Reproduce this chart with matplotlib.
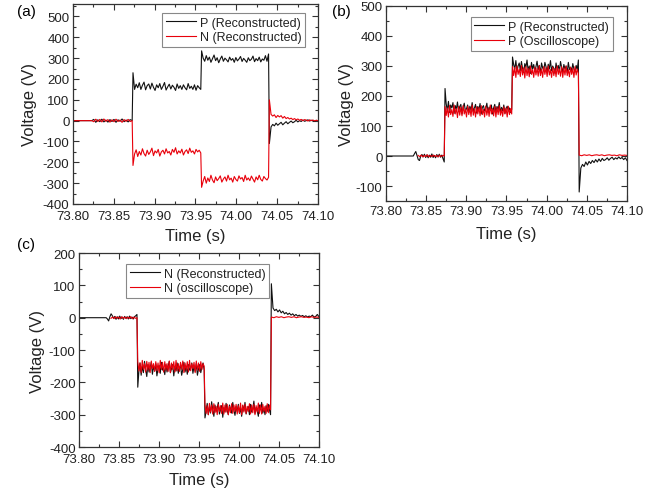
import numpy as np
import matplotlib.pyplot as plt
from matplotlib.ticker import MultipleLocator

plt.rcParams['font.family'] = ['Liberation Sans', 'DejaVu Sans']
plt.rcParams['axes.unicode_minus'] = False

# switching instants (s)
t_start = 73.80
t_step1 = 73.8735
t_step2 = 73.9575
t_step3 = 74.0405
t_end = 74.10

# ---- (a) reconstructed P / N ----
a_quiet_end = 73.823
a_p_pre = [0, 6, -8, 4, -5, 7, -6, 3, -7, 5, -4, 6, -8, 4, -3, 8, -5, 3, -6, 5, 0]
a_p_lvl1 = [230, 150, 175, 158, 182, 150, 170, 185, 148, 168, 176, 152, 180, 160, 145, 172,
            158, 178, 150, 165, 183, 147, 162, 175, 152, 170, 160, 145, 176, 155, 168, 150,
            172, 158, 148, 178, 155, 165, 150, 172, 146, 168, 158, 150]
a_p_lvl2 = [335, 300, 285, 312, 290, 305, 280, 298, 315, 288, 302, 278, 296, 310, 285, 300,
            292, 282, 305, 290, 298, 280, 303, 287, 296, 308, 284, 299, 290, 280, 302, 288,
            295, 310, 283, 298, 288, 305, 282, 296, 290, 312, 285, 320]
a_p_post = [-110, -30, -18, -25, -12, -22, -15, -8, -20, -12, -5, -15, -8, -2, -10, -5, 2,
            -6, 0, -4, 3, -3, 0, 4, -2, 2, 0, -3, 1, 0]

a_n_pre = [0, -5, 7, -4, 6, -6, 8, -3, 5, -7, 4, -5, 7, -4, 3, -8, 5, -3, 6, -4, 0]
a_n_lvl1 = [-215, -160, -140, -172, -148, -165, -135, -158, -170, -142, -162, -150, -132, -168,
            -145, -155, -138, -170, -150, -142, -160, -135, -155, -148, -165, -138, -152, -130,
            -160, -145, -155, -137, -165, -148, -140, -158, -132, -152, -145, -160, -138, -150,
            -142, -155]
a_n_lvl2 = [-320, -290, -268, -300, -275, -292, -262, -285, -298, -270, -288, -278, -265, -295,
            -280, -270, -290, -262, -284, -276, -295, -268, -282, -290, -265, -280, -273, -292,
            -262, -285, -275, -288, -266, -280, -295, -270, -284, -262, -282, -290, -268, -278,
            -285, -272]
a_n_post = [100, 30, 22, 28, 15, 25, 18, 24, 12, 20, 10, 15, 8, 12, 5, 10, 4, 8, 2, 6, 0, 5,
            3, -2, 4, 0, 3, -1, 2, 0]

# ---- (b) P: reconstructed vs oscilloscope ----
b_quiet_end = 73.834
b_rec_pre = [0, 8, 15, 2, -12, -15, 0, 5, -3, 6, -5, 4, -6, 3, -4, 7, -5, 2, -6, 5, -3, 6,
             -4, 3, -8, -20]
b_rec_lvl1 = [225, 175, 150, 182, 145, 170, 160, 178, 142, 168, 155, 180, 148, 165, 172, 140,
              162, 176, 150, 158, 170, 145, 166, 152, 178, 148, 160, 172, 143, 165, 155, 175,
              140, 162, 168, 150, 158, 176, 146, 163, 152, 170, 140, 160, 172, 148, 165, 155,
              178, 145, 162, 150, 170, 142, 158, 166, 150, 160, 145, 155]
b_rec_lvl2 = [330, 305, 290, 318, 282, 300, 310, 285, 315, 292, 278, 308, 296, 320, 285, 300,
              275, 312, 290, 305, 282, 298, 316, 288, 302, 276, 310, 294, 285, 312, 298, 280,
              306, 290, 318, 284, 300, 292, 276, 310, 288, 302, 282, 315, 295, 280, 305, 290,
              300, 278, 312, 288, 296, 284, 308, 290, 280, 302, 288, 320]
b_rec_post = [-120, -40, -28, -35, -20, -30, -18, -25, -15, -22, -12, -20, -10, -18, -8, -15,
              -12, -6, -14, -8, -4, -12, -6, -10, -3, -9, -5, -12, -6, -15]

b_osc_start = 73.840
b_osc_pre = [2, -2, 3, -3, 2, -2, 4, -3, 2, -2, 3, -2, 2, -3, 3, -2, 2, 0]
b_osc_lvl1 = [165, 135, 160, 130, 168, 138, 155, 132, 170, 140, 158, 128, 165, 136, 162, 134,
              168, 140, 156, 130, 166, 138, 160, 132, 170, 136, 158, 130, 164, 140, 162, 134,
              168, 138, 155, 130, 166, 136, 160, 132, 170, 140, 158, 134, 165, 130, 162, 138,
              168, 136, 156, 132, 164, 140, 160, 130, 166, 138, 158, 140]
b_osc_lvl2 = [298, 268, 295, 262, 300, 272, 290, 265, 302, 270, 294, 260, 298, 268, 292, 264,
              300, 272, 288, 262, 296, 270, 293, 266, 301, 268, 290, 262, 298, 272, 294, 265,
              300, 270, 288, 262, 296, 268, 292, 264, 300, 272, 290, 266, 298, 262, 294, 270,
              300, 268, 288, 264, 296, 272, 292, 262, 298, 270, 290, 275]
b_osc_post = [3, 1, 4, 2, 4, 1, 3, 4, 2, 4, 1, 3, 4, 2, 3, 1, 4, 2, 3, 2]

# ---- (c) N: reconstructed vs oscilloscope ----
c_quiet_end = 73.834
c_rec_pre = [0, -4, -10, 3, 12, 6, -2, 4, -5, 3, -4, 5, -3, 2, -5, 4, -2, 3, -4, 5, -3, 2,
             -4, 3, 6, 10]
c_rec_lvl1 = [-215, -165, -140, -178, -150, -170, -135, -160, -182, -145, -168, -155, -138,
              -175, -150, -165, -142, -180, -158, -148, -172, -138, -162, -155, -176, -145,
              -168, -150, -135, -170, -158, -145, -180, -152, -165, -140, -172, -155, -148,
              -178, -160, -138, -168, -150, -175, -145, -162, -155, -140, -172, -150, -166,
              -142, -178, -158, -145, -170, -152, -140, -162]
c_rec_lvl2 = [-310, -290, -265, -300, -275, -295, -260, -285, -305, -270, -290, -280, -262,
              -298, -285, -272, -308, -278, -292, -265, -288, -300, -270, -282, -295, -262,
              -286, -302, -275, -290, -268, -296, -280, -305, -272, -288, -262, -298, -284,
              -275, -300, -268, -292, -282, -258, -296, -278, -288, -305, -270, -285, -262,
              -295, -280, -300, -272, -290, -268, -285, -300]
c_rec_post = [105, 30, 22, 26, 18, 24, 15, 20, 12, 16, 10, 14, 8, 12, 6, 10, 5, 8, 4, 7, 3,
              6, 2, 5, 3, 8, 2, 4, 10, 3]

c_osc_start = 73.840
c_osc_pre = [-2, 2, -3, 3, -2, 2, -4, 3, -2, 2, -3, 2, -2, 3, -3, 2, -2, 0]
c_osc_lvl1 = [-135, -165, -140, -170, -132, -160, -142, -168, -135, -162, -138, -170, -134,
              -158, -142, -166, -136, -164, -140, -170, -132, -160, -138, -168, -136, -162,
              -142, -166, -134, -170, -140, -160, -136, -168, -132, -164, -142, -166, -138,
              -160, -134, -170, -140, -162, -136, -168, -132, -164, -142, -158, -138, -170,
              -134, -162, -140, -166, -136, -160, -142, -150]
c_osc_lvl2 = [-268, -296, -272, -300, -265, -292, -270, -298, -266, -294, -274, -300, -268,
              -290, -272, -296, -264, -298, -270, -292, -268, -300, -274, -294, -266, -296,
              -270, -290, -268, -298, -272, -294, -264, -300, -270, -292, -268, -296, -274,
              -290, -266, -298, -270, -294, -268, -300, -272, -292, -264, -296, -270, -298,
              -268, -290, -274, -296, -266, -294, -270, -285]
c_osc_post = [2, 0, 3, 1, 3, 0, 2, 3, 1, 3, 0, 2, 3, 1, 2, 0, 3, 1, 2, 1]


def trace(segments):
    """Join (t0, t1, samples) pieces into one time/voltage record."""
    tt, vv = [], []
    for t0, t1, vals in segments:
        tt.append(np.linspace(t0, t1, len(vals)))
        vv.append(np.asarray(vals, dtype=float))
    return np.concatenate(tt), np.concatenate(vv)


def record(pre_t0, pre, lvl1, lvl2, post, quiet_end=None):
    segs = []
    if quiet_end is not None:
        # idle line before the converter starts switching
        segs.append((t_start, quiet_end, [0, 0]))
        pre_t0 = quiet_end
    segs += [(pre_t0, t_step1 - 0.001, pre),
             (t_step1, t_step2 - 0.001, lvl1),
             (t_step2, t_step3 - 0.001, lvl2),
             (t_step3, t_end, post)]
    return trace(segs)


def style_axes(ax, ylim, ymajor, xpad, xlabelpad, ylabelpad):
    ax.set_xlim(t_start, t_end)
    ax.set_ylim(*ylim)
    ax.xaxis.set_major_locator(MultipleLocator(0.05))
    ax.xaxis.set_minor_locator(MultipleLocator(0.025))
    ax.yaxis.set_major_locator(MultipleLocator(ymajor))
    ax.yaxis.set_minor_locator(MultipleLocator(ymajor / 2))
    ax.xaxis.set_major_formatter(plt.FuncFormatter(lambda v, p: '%.2f' % v))
    ax.tick_params(which='both', direction='in', top=True, right=True,
                   colors='#333333', labelcolor='#222222', labelsize=9.5)
    ax.tick_params(which='major', length=4, width=0.8)
    ax.tick_params(which='minor', length=2.5, width=0.8)
    ax.tick_params(axis='x', pad=xpad)
    ax.tick_params(axis='y', pad=2.5)
    for s in ax.spines.values():
        s.set_color('#333333')
        s.set_linewidth(0.9)
    ax.set_xlabel('Time (s)', fontsize=12, labelpad=xlabelpad, color='#222222')
    ax.set_ylabel('Voltage (V)', fontsize=12, labelpad=ylabelpad, color='#222222')


def add_legend(ax, loc, anchor):
    leg = ax.legend(loc=loc, bbox_to_anchor=anchor, fontsize=9, frameon=True,
                    fancybox=False, edgecolor='#888888', framealpha=1,
                    handlelength=2.4, handletextpad=0.3, borderpad=0.3,
                    labelspacing=0.2, borderaxespad=0)
    leg.get_frame().set_linewidth(0.8)
    for txt in leg.get_texts():
        txt.set_color('#222222')


fig = plt.figure(figsize=(6.67, 4.89), dpi=100)
lw = 0.8
blk = '#111111'
red = '#e8000b'

# (a)
ax = fig.add_axes([0.1094, 0.5808, 0.3673, 0.4090])
t, v = record(t_start, a_p_pre, a_p_lvl1, a_p_lvl2, a_p_post, a_quiet_end)
ax.plot(t, v, color=blk, lw=lw, label='P (Reconstructed)')
t, v = record(t_start, a_n_pre, a_n_lvl1, a_n_lvl2, a_n_post, a_quiet_end)
ax.plot(t, v, color=red, lw=lw, label='N (Reconstructed)')
style_axes(ax, (-400, 560), 100, 4.5, 4, 4)
ax.set_yticks(np.arange(-400, 501, 100))
add_legend(ax, 'upper right', (0.947, 0.955))
fig.text(0.025, 0.975, '(a)', fontsize=11, va='center')

# (b)
ax = fig.add_axes([0.5787, 0.5869, 0.3613, 0.3988])
t, v = record(t_start, b_rec_pre, b_rec_lvl1, b_rec_lvl2, b_rec_post, b_quiet_end)
ax.plot(t, v, color=blk, lw=lw, label='P (Reconstructed)')
t, v = record(b_osc_start, b_osc_pre, b_osc_lvl1, b_osc_lvl2, b_osc_post)
ax.plot(t, v, color=red, lw=lw, label='P (Oscilloscope)')
style_axes(ax, (-150, 500), 100, 3, 6, 1)
add_legend(ax, 'upper right', (0.94, 0.944))
fig.text(0.498, 0.975, '(b)', fontsize=11, va='center')

# (c)
ax = fig.add_axes([0.1184, 0.0838, 0.3598, 0.3967])
t, v = record(t_start, c_rec_pre, c_rec_lvl1, c_rec_lvl2, c_rec_post, c_quiet_end)
ax.plot(t, v, color=blk, lw=lw, label='N (Reconstructed)')
t, v = record(c_osc_start, c_osc_pre, c_osc_lvl1, c_osc_lvl2, c_osc_post)
ax.plot(t, v, color=red, lw=lw, label='N (oscilloscope)')
style_axes(ax, (-400, 200), 100, 4.5, 5, 3)
add_legend(ax, 'upper left', (0.196, 0.943))
fig.text(0.025, 0.499, '(c)', fontsize=11, va='center')

fig.savefig('out.png', dpi=100)
